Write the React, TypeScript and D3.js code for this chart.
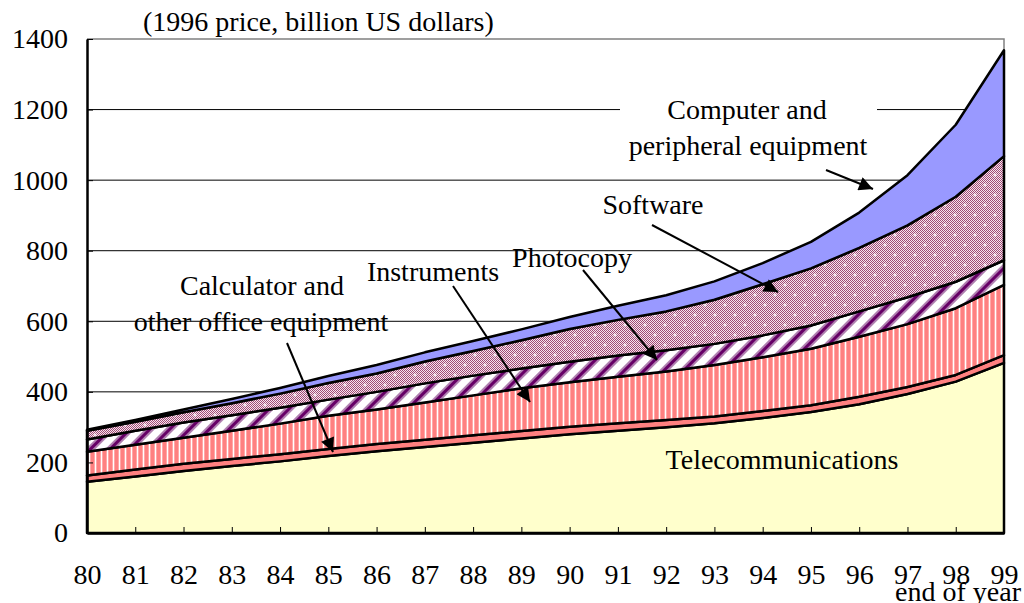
import * as d3 from "d3";
import { useEffect, useRef } from "react";

const years = [80, 81, 82, 83, 84, 85, 86, 87, 88, 89, 90, 91, 92, 93, 94, 95, 96, 97, 98, 99];
const telecom = [145, 160, 176, 190, 203, 218, 232, 244, 256, 268, 280, 290, 300, 311, 326, 343, 365, 394, 429, 482];
const office = [18, 20, 20, 20, 20, 20, 20, 20, 21, 21, 21, 21, 20, 19, 20, 19, 21, 20, 19, 22];
const instruments = [67, 70, 74, 80, 87, 94, 98, 106, 113, 121, 126, 132, 138, 146, 152, 160, 170, 178, 189, 199];
const photocopy = [35, 40, 43, 44, 45, 46, 50, 54, 56, 56, 58, 60, 60, 60, 62, 66, 72, 76, 75, 70];
const software = [25, 25, 29, 34, 40, 47, 52, 62, 70, 80, 93, 101, 110, 125, 145, 162, 180, 204, 241, 295];
const computer = [3, 5, 8, 12, 16, 20, 24, 26, 28, 31, 34, 40, 46, 52, 60, 75, 100, 142, 204, 300];
const yTicks = [0, 200, 400, 600, 800, 1000, 1200, 1400];

const keys = ["telecom", "office", "instruments", "photocopy", "software", "computer"];
const fills: Record<string, string> = {
  telecom: "#FFFFCC",
  office: "#FF8080",
  instruments: "url(#vstripe)",
  photocopy: "url(#dstripe)",
  software: "url(#dots)",
  computer: "#9999FF",
};

const FONT = "'Liberation Serif', 'Times New Roman', serif";

export default function App() {
  const svgRef = useRef(null);

  useEffect(() => {
    document.body.style.margin = "0";
    const w = 1024;
    const h = 603;
    const m = { left: 87, right: 1004, top: 39, bottom: 533 };

    const svg = d3.select(svgRef.current).attr("width", w).attr("height", h);
    svg.selectAll("*").remove();
    svg.append("rect").attr("width", w).attr("height", h).attr("fill", "#fff");

    const defs = svg.append("defs");

    // vertical pink stripes (instruments)
    const vs = defs.append("pattern").attr("id", "vstripe").attr("patternUnits", "userSpaceOnUse")
      .attr("width", 6).attr("height", 6);
    vs.append("rect").attr("width", 6).attr("height", 6).attr("fill", "#fff");
    vs.append("rect").attr("x", 0).attr("width", 1).attr("height", 6).attr("fill", "#FFA8A8");
    vs.append("rect").attr("x", 1).attr("width", 3).attr("height", 6).attr("fill", "#FF8080");
    vs.append("rect").attr("x", 4).attr("width", 1).attr("height", 6).attr("fill", "#FFA8A8");

    // diagonal purple stripes (photocopy)
    const ds = defs.append("pattern").attr("id", "dstripe").attr("patternUnits", "userSpaceOnUse")
      .attr("width", 14).attr("height", 14).attr("patternTransform", "rotate(45)");
    ds.append("rect").attr("width", 14).attr("height", 14).attr("fill", "#fff");
    ds.append("rect").attr("x", 0).attr("width", 2).attr("height", 14).attr("fill", "#B080B0");
    ds.append("rect").attr("x", 2).attr("width", 3).attr("height", 14).attr("fill", "#660066");
    ds.append("rect").attr("x", 5).attr("width", 2).attr("height", 14).attr("fill", "#B080B0");

    // fine checker + white crosses (software)
    const ck = defs.append("pattern").attr("id", "chk").attr("patternUnits", "userSpaceOnUse")
      .attr("width", 2).attr("height", 2);
    ck.append("rect").attr("width", 2).attr("height", 2).attr("fill", "#F6E6EE");
    ck.append("rect").attr("width", 1).attr("height", 1).attr("fill", "#A04A76");
    ck.append("rect").attr("x", 1).attr("y", 1).attr("width", 1).attr("height", 1).attr("fill", "#A04A76");
    const dp = defs.append("pattern").attr("id", "dots").attr("patternUnits", "userSpaceOnUse")
      .attr("width", 20).attr("height", 20);
    dp.append("rect").attr("width", 20).attr("height", 20).attr("fill", "url(#chk)");
    [[5, 5], [15, 15]].forEach(([cx, cy]) => {
      dp.append("rect").attr("x", cx - 1.5).attr("y", cy - 0.5).attr("width", 3).attr("height", 1).attr("fill", "#fff");
      dp.append("rect").attr("x", cx - 0.5).attr("y", cy - 1.5).attr("width", 1).attr("height", 3).attr("fill", "#fff");
    });

    defs.append("marker").attr("id", "arr").attr("viewBox", "0 0 10 10").attr("refX", 10).attr("refY", 5)
      .attr("markerWidth", 9).attr("markerHeight", 7).attr("markerUnits", "strokeWidth")
      .attr("orient", "auto")
      .append("path").attr("d", "M0,0L10,5L0,10z").attr("fill", "#000");

    const x = d3.scaleLinear().domain([80, 99]).range([m.left, m.right]);
    const y = d3.scaleLinear().domain([0, 1400]).range([m.bottom, m.top]);

    // gridlines
    svg.append("g").selectAll("line").data(yTicks.filter((t) => t > 0 && t < 1400)).enter().append("line")
      .attr("x1", m.left).attr("x2", m.right).attr("y1", (d) => y(d)).attr("y2", (d) => y(d))
      .attr("stroke", "#000").attr("stroke-width", 1);
    svg.append("path")
      .attr("d", `M${m.left},${y(1400)}H${m.right}V${m.bottom}`)
      .attr("fill", "none").attr("stroke", "#808080").attr("stroke-width", 1.5);

    const rows = years.map((yr, i) => ({
      year: yr,
      telecom: telecom[i],
      office: office[i],
      instruments: instruments[i],
      photocopy: photocopy[i],
      software: software[i],
      computer: computer[i],
    }));
    const series = d3.stack<any>().keys(keys)(rows);
    const area = d3.area<any>()
      .x((d) => x(d.data.year))
      .y0((d) => y(d[0]))
      .y1((d) => y(d[1]));

    svg.append("g").selectAll("path").data(series).enter().append("path")
      .attr("d", (s) => area(s as any))
      .attr("fill", (s) => fills[s.key])
      .attr("stroke", "#000").attr("stroke-width", 2.5).attr("stroke-linejoin", "round");

    // white box behind the computer label
    svg.append("rect").attr("x", 620).attr("y", 93).attr("width", 257).attr("height", 72).attr("fill", "#fff");

    // axes
    const yAxis = d3.axisLeft(y).tickValues(yTicks).tickSizeInner(-6).tickSizeOuter(0).tickPadding(19)
      .tickFormat(d3.format("d"));
    const gy = svg.append("g").attr("transform", `translate(${m.left},0)`).call(yAxis);
    const xAxis = d3.axisBottom(x).tickValues(years).tickSizeInner(-6).tickSizeOuter(0).tickPadding(31)
      .tickFormat((d) => String(d));
    const gx = svg.append("g").attr("transform", `translate(0,${m.bottom})`).call(xAxis);
    [gx, gy].forEach((g) => {
      g.select(".domain").attr("stroke", "#000").attr("stroke-width", 2.5);
      g.selectAll(".tick line").attr("stroke", "#000").attr("stroke-width", 1);
      g.selectAll("text").attr("font-family", FONT).attr("font-size", 28).attr("fill", "#000");
    });
    gx.selectAll(".tick").filter((d) => d === 80).select("line").remove();

    const txt = (t: string, tx: number, ty: number, anchor = "middle") =>
      svg.append("text").attr("x", tx).attr("y", ty).attr("text-anchor", anchor)
        .attr("font-family", FONT).attr("font-size", 28).attr("fill", "#000").text(t);

    txt("(1996 price, billion US dollars)", 143, 31, "start");
    txt("end of year", 1021, 601, "end");
    txt("Computer and", 747, 119);
    txt("peripheral equipment", 748, 155);
    txt("Software", 653, 214);
    txt("Photocopy", 572, 267);
    txt("Instruments", 433, 281);
    txt("Calculator and", 262, 295);
    txt("other office equipment", 261, 331);
    txt("Telecommunications", 782, 469);

    const arrows = [
      [826, 170, 873, 189],
      [652, 225, 778, 292],
      [583, 270, 657, 360],
      [453, 286, 530, 402],
      [287, 343, 333, 452],
    ];
    svg.append("g").selectAll("line").data(arrows).enter().append("line")
      .attr("x1", (d) => d[0]).attr("y1", (d) => d[1]).attr("x2", (d) => d[2]).attr("y2", (d) => d[3])
      .attr("stroke", "#000").attr("stroke-width", 2).attr("marker-end", "url(#arr)");
  }, []);

  return <svg ref={svgRef} style={{ display: "block" }}></svg>;
}
